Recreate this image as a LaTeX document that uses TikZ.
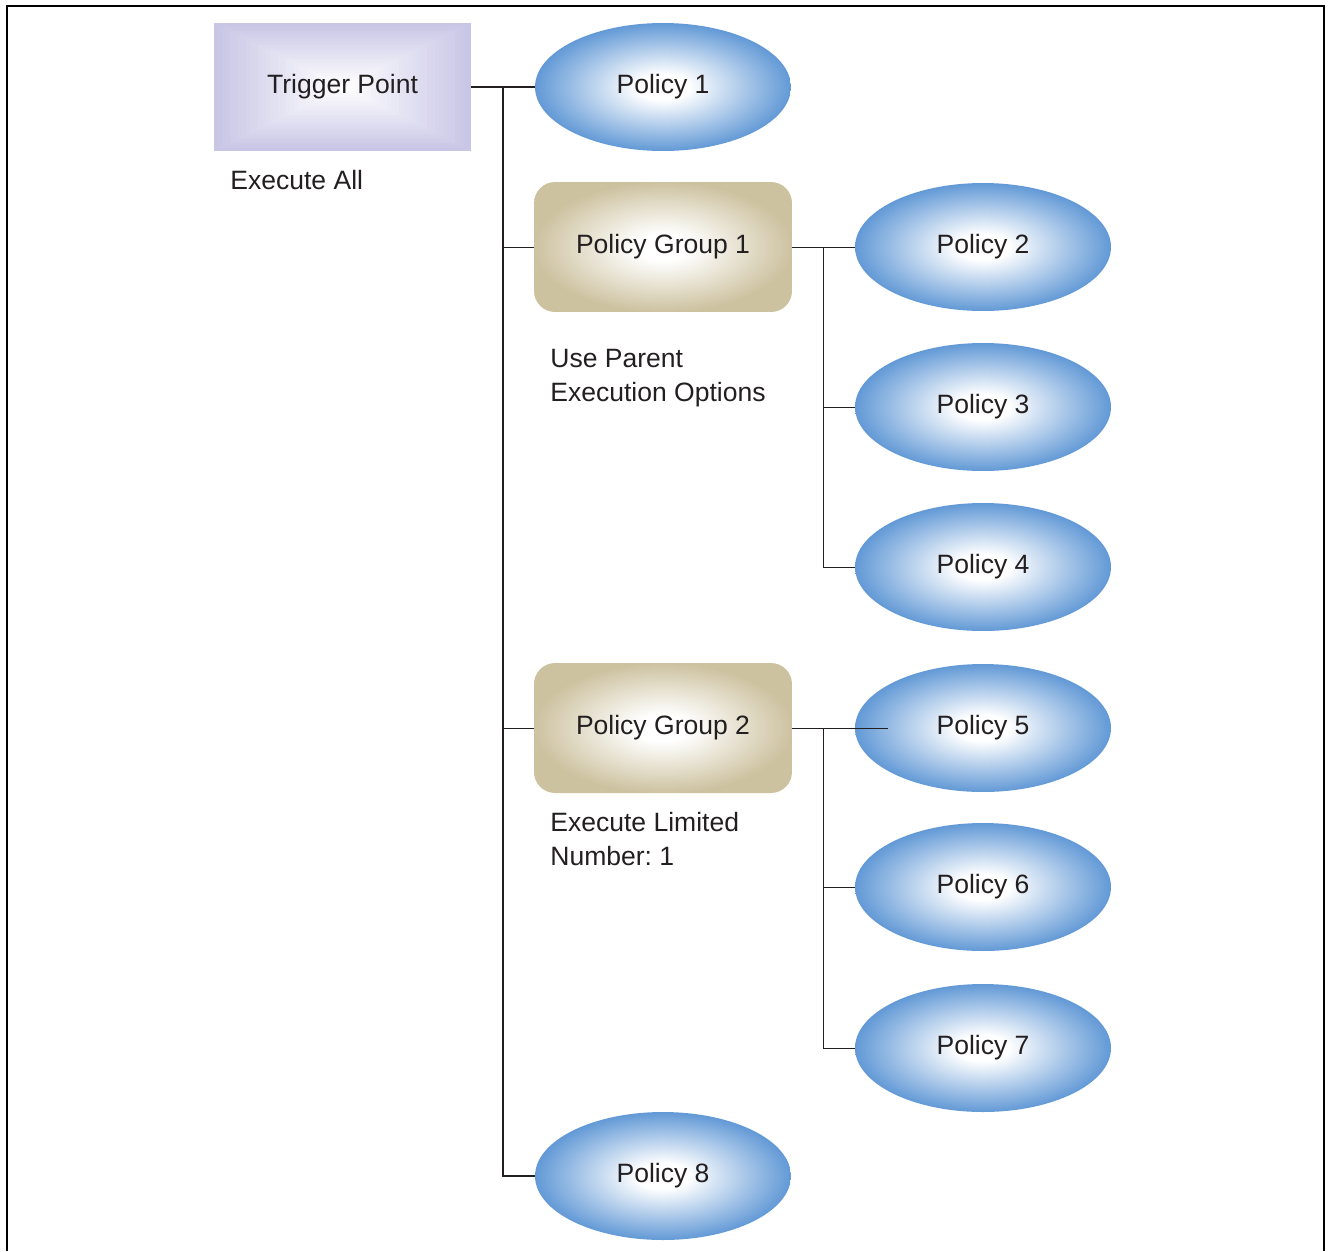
\documentclass[tikz,border=0pt]{standalone}
\usepackage{fontspec}
\setmainfont{Liberation Sans}
\usetikzlibrary{shapes.geometric,calc,backgrounds}
\frenchspacing

\definecolor{polblue}{RGB}{98,153,214}
\definecolor{grptan}{RGB}{205,194,160}
\definecolor{triglav}{RGB}{200,197,229}
\definecolor{ink}{RGB}{35,31,32}

% white centre fading to the outline colour at the rim
\pgfdeclareradialshading{bluefade}{\pgfpoint{0bp}{0bp}}{%
  color(0bp)=(white); color(5bp)=(white); color(25bp)=(polblue); color(50bp)=(polblue)}
\pgfdeclareradialshading{tanfade}{\pgfpoint{0bp}{0bp}}{%
  color(0bp)=(white); color(5bp)=(white); color(25bp)=(grptan); color(50bp)=(grptan)}

\tikzset{
  centred/.style={text height=0.716em, text depth=0pt},
  policy/.style={ellipse, minimum width=5.12cm, minimum height=2.56cm, inner sep=0pt,
    shading=bluefade, text=ink, centred},
  groupbox/.style={rectangle, rounded corners=0.42cm, minimum width=5.16cm,
    minimum height=2.6cm, inner sep=0pt, shading=tanfade, text=ink, centred},
  trigbox/.style={rectangle, minimum width=5.14cm, minimum height=2.56cm, inner sep=0pt,
    text=ink, centred},
  note/.style={inner sep=0pt, align=left, text=ink, anchor=north west},
  mainline/.style={draw=ink, line width=0.8pt},
  subline/.style={draw=ink, line width=0.55pt},
}

\begin{document}
\begin{tikzpicture}[x=0.02cm, y=-0.02cm, font=\fontsize{15.1}{19.3}\selectfont]
\useasboundingbox (0,0) rectangle (1328,1251);

% open frame (no bottom edge)
\draw[line width=1.1pt] (7,1251) -- (7,6) -- (1324,6) -- (1324,1251);

% nodes
\node[trigbox] (trig) at (342.5,87) {Trigger Point};
\node[policy] (p1) at (663,87) {Policy 1};
\node[groupbox] (g1) at (663,247) {Policy Group 1};
\node[groupbox] (g2) at (663,728) {Policy Group 2};
\node[policy] (p2) at (983,247) {Policy 2};
\node[policy] (p3) at (983,407) {Policy 3};
\node[policy] (p4) at (983,567) {Policy 4};
\node[policy] (p5) at (983,728) {Policy 5};
\node[policy] (p6) at (983,887) {Policy 6};
\node[policy] (p7) at (983,1048) {Policy 7};
\node[policy] (p8) at (663,1176) {Policy 8};

% concentric-rectangle fill behind the trigger box
\begin{scope}[on background layer]
  \foreach \i in {0,...,31} {
    \pgfmathsetmacro{\mix}{100-\i*3.2}
    \fill[triglav!\mix!white]
      ($(trig.south west)+(\i*4,-\i*2)$) rectangle ($(trig.north east)+(-\i*4,\i*2)$);
  }
\end{scope}

% notes under the boxes
\node[inner sep=0pt, anchor=west, text=ink, centred] (n0) at (230,183) {Execute All};
\node[note] (n1) at (550,349) {Use Parent\\Execution Options};
\node[note] (n2) at (550,812) {Execute Limited\\Number: 1};

% bus positions
\coordinate (busx) at (503,0);
\coordinate (subx) at (823,0);
\coordinate (p5tip) at ($(p5.west)+(33,0)$);

% main bus
\draw[mainline] (trig.east) -- (p1.west);
\draw[mainline] (trig.east -| busx) |- (p8.west);
\draw[subline] (trig.east -| busx) |- (g1.west);
\draw[subline] (trig.east -| busx) |- (g2.west);

% group 1 branches
\draw[subline] (g1.east) -- (p2.west);
\draw[subline] (g1.east -| subx) |- (p3.west);
\draw[subline] (g1.east -| subx) |- (p4.west);

% group 2 branches
\draw[subline] (g2.east) -- (p5tip);
\draw[subline] (g2.east -| subx) |- (p6.west);
\draw[subline] (g2.east -| subx) |- (p7.west);
\end{tikzpicture}
\end{document}
